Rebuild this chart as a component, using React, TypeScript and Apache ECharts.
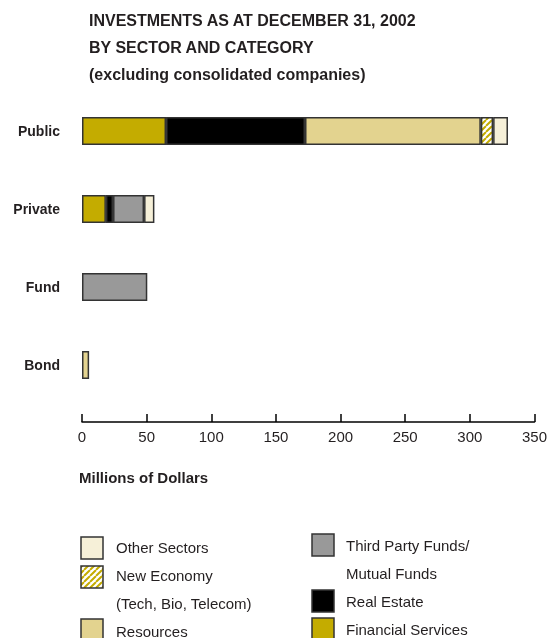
import React, { useEffect, useRef } from "react";
import * as echarts from "echarts";

const categories = ["Public", "Private", "Fund", "Bond"];
const financialServices = [65, 18.5, null, null];
const realEstate = [107.5, 5.5, null, null];
const thirdPartyFunds = [null, 24, 50.5, null];
const resources = [136, null, null, 5.5];
const newEconomy = [9.5, null, null, null];
const otherSectors = [11.5, 8, null, null];
const xTicks = [0, 350, 50];

const FONT = "'Liberation Sans', Arial, sans-serif";
const TXT = "#231f20";
const BORDER = "#333333";

const COLORS = {
  fin: "#c4ac00",
  re: "#000000",
  tpf: "#999999",
  res: "#e3d38f",
  ne: "#c4ac00",
  other: "#f6f0d8",
};

function makeStripe() {
  const c = document.createElement("canvas");
  c.width = 6;
  c.height = 6;
  const g = c.getContext("2d")!;
  g.fillStyle = "#fff";
  g.fillRect(0, 0, 6, 6);
  g.strokeStyle = COLORS.ne;
  g.lineWidth = 2;
  g.beginPath();
  for (let k = -6; k <= 12; k += 6) {
    g.moveTo(k, 6);
    g.lineTo(k + 6, 0);
  }
  g.stroke();
  return c;
}

export default function App() {
  const ref = useRef<HTMLDivElement>(null);
  useEffect(() => {
    const chart = echarts.init(ref.current!, null, { renderer: "svg" });
    const stripe = { image: makeStripe(), repeat: "repeat" } as any;
    const mk = (name: string, data: (number | null)[], color: any) => ({
      name,
      type: "bar",
      stack: "total",
      barWidth: 28,
      data,
      itemStyle: {
        color,
        borderColor: BORDER,
        borderWidth: 1.5,
      },
    });

    const legendLeft = [
      { y: 537, fill: COLORS.other, lines: [["Other Sectors", 547]] },
      { y: 566, fill: stripe, lines: [["New Economy", 575], ["(Tech, Bio, Telecom)", 603]] },
      { y: 619, fill: COLORS.res, lines: [["Resources", 631]] },
    ];
    const legendRight = [
      { y: 534, fill: COLORS.tpf, lines: [["Third Party Funds/", 545], ["Mutual Funds", 573]] },
      { y: 590, fill: COLORS.re, lines: [["Real Estate", 601]] },
      { y: 618, fill: COLORS.fin, lines: [["Financial Services", 629]] },
    ];
    const graphics: any[] = [];
    const addLegend = (items: any[], ix: number, tx: number) => {
      items.forEach((it) => {
        graphics.push({
          type: "rect",
          shape: { x: ix, y: it.y, width: 22, height: 22 },
          style: { fill: it.fill, stroke: BORDER, lineWidth: 1.5 },
        });
        it.lines.forEach((l: any) => {
          graphics.push({
            type: "text",
            x: tx,
            y: l[1],
            style: { text: l[0], font: `15px ${FONT}`, fill: TXT, textVerticalAlign: "middle" },
          });
        });
      });
    };
    addLegend(legendLeft, 81, 116);
    addLegend(legendRight, 312, 346);
    const titleLines: [string, number][] = [
      ["INVESTMENTS AS AT DECEMBER 31, 2002", 20],
      ["BY SECTOR AND CATEGORY", 47],
      ["(excluding consolidated companies)", 74],
    ];
    titleLines.forEach(([t, y]) =>
      graphics.push({
        type: "text",
        x: 89,
        y,
        style: { text: t, font: `bold 16px ${FONT}`, fill: TXT, textVerticalAlign: "middle" },
      })
    );
    graphics.push({
      type: "text",
      x: 79,
      y: 477,
      style: { text: "Millions of Dollars", font: `bold 15px ${FONT}`, fill: TXT, textVerticalAlign: "middle" },
    });

    chart.setOption({
      animation: false,
      grid: { left: 82, right: 15, top: 92, height: 312 },
      xAxis: {
        type: "value",
        min: xTicks[0],
        max: xTicks[1],
        interval: xTicks[2],
        offset: 18,
        axisLine: { show: true, lineStyle: { color: "#000", width: 1.5 } },
        axisTick: { show: true, inside: true, length: 8, lineStyle: { color: "#000", width: 1.5 } },
        splitLine: { show: false },
        axisLabel: { color: TXT, fontSize: 15, fontFamily: FONT, margin: 7 },
      },
      yAxis: {
        type: "category",
        data: categories,
        inverse: true,
        axisLine: { show: false },
        axisTick: { show: false },
        axisLabel: { color: TXT, fontSize: 14, fontWeight: "bold", fontFamily: FONT, margin: 22 },
      },
      series: [
        mk("Financial Services", financialServices, COLORS.fin),
        mk("Real Estate", realEstate, COLORS.re),
        mk("Third Party Funds/Mutual Funds", thirdPartyFunds, COLORS.tpf),
        mk("Resources", resources, COLORS.res),
        mk("New Economy", newEconomy, stripe),
        mk("Other Sectors", otherSectors, COLORS.other),
      ],
      graphic: graphics,
    });
    return () => chart.dispose();
  }, []);
  return (
    <div
      ref={ref}
      style={{ position: "fixed", left: 0, top: 0, width: 550, height: 638 }}
    />
  );
}
